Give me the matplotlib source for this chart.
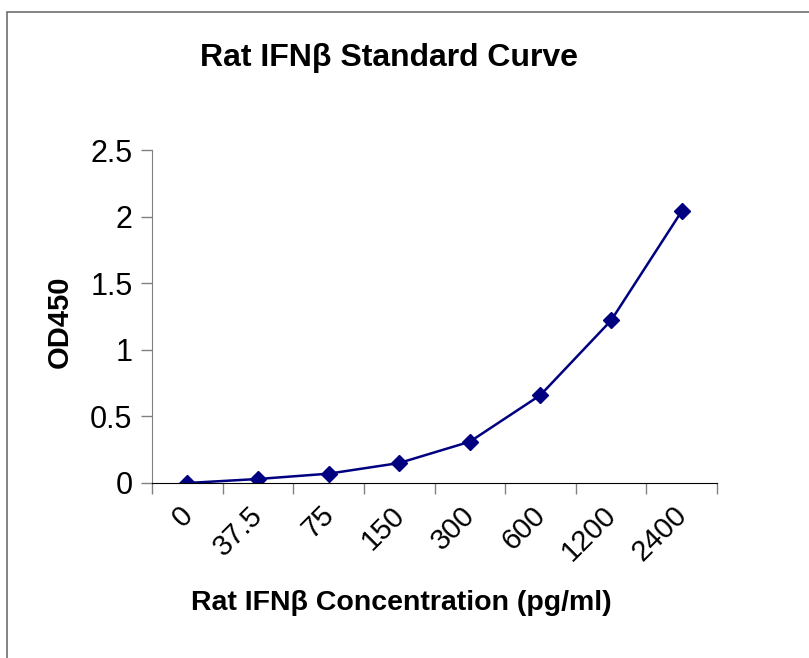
import matplotlib
matplotlib.use("Agg")
import matplotlib.pyplot as plt
from matplotlib.patches import Rectangle
from matplotlib.transforms import ScaledTranslation

plt.rcParams['font.family'] = ['Liberation Sans', 'DejaVu Sans']

concentrations = ['0', '37.5', '75', '150', '300', '600', '1200', '2400']
od450 = [0.0, 0.03, 0.07, 0.15, 0.31, 0.66, 1.22, 2.04]
yticks = [0, 0.5, 1, 1.5, 2, 2.5]

W, H = 809, 658
fig = plt.figure(figsize=(W / 100, H / 100), dpi=100)

# chart-area border (runs off the right/bottom of the picture)
fig.add_artist(Rectangle((7 / W, -0.05), 1.2, 1 - 12 / H + 0.05,
                         transform=fig.transFigure, fill=False,
                         edgecolor='#6e6e6e', linewidth=1.2))

ax = fig.add_axes([152 / W, 1 - 483 / H, (717 - 152) / W, (483 - 150) / H])

x = list(range(len(concentrations)))
ax.plot(x, od450, color='#000080', linewidth=1.8, marker='D', markersize=8)

ax.set_xlim(-0.5, len(concentrations) - 0.5)
ax.set_ylim(0, 2.5)
ax.set_yticks(yticks)
ax.set_yticklabels(['0', '0.5', '1', '1.5', '2', '2.5'])

# Excel-style ticks between categories
ax.set_xticks([i - 0.5 for i in range(len(concentrations) + 1)])
ax.set_xticklabels([])
ax.set_xticks(x, minor=True)
ax.set_xticklabels(concentrations, minor=True, rotation=45, ha='right',
                   rotation_mode='anchor', fontsize=21)
ax.tick_params(axis='x', which='minor', length=0, pad=15)
ax.tick_params(axis='x', which='major', length=8, width=1, color='#808080')
ax.tick_params(axis='y', length=8, width=1, color='#808080', labelsize=22, pad=6)

shift = ScaledTranslation(-9 / 100, 3 / 100, fig.dpi_scale_trans)
for lbl in ax.get_xticklabels(minor=True):
    lbl.set_transform(lbl.get_transform() + shift)

for side in ['top', 'right']:
    ax.spines[side].set_visible(False)
ax.spines['left'].set_color('#808080')
ax.spines['bottom'].set_color('black')

fig.text(389 / W, 1 - 58 / H, 'Rat IFNβ Standard Curve', ha='center', va='center',
         fontsize=23, fontweight='bold')
fig.text(401 / W, 1 - 603 / H, 'Rat IFNβ Concentration (pg/ml)', ha='center',
         va='center', fontsize=20.5, fontweight='bold')
fig.text(60 / W, 1 - 322 / H, 'OD450', ha='center', va='center', rotation=90,
         fontsize=21, fontweight='bold')

fig.savefig('out.png', dpi=100)
